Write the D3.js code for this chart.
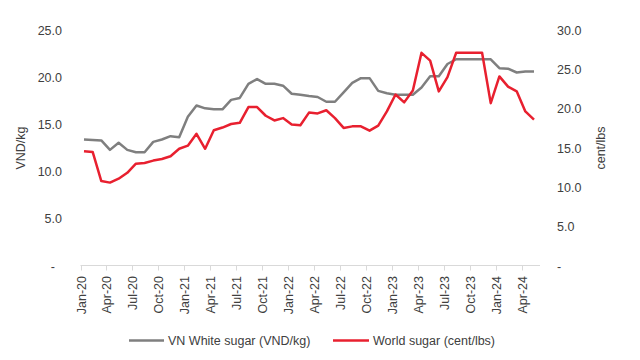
<!DOCTYPE html>
<html><head><meta charset="utf-8">
<script src="https://cdn.jsdelivr.net/npm/d3@7/dist/d3.min.js"></script>
<style>body{margin:0;background:#fff}svg{display:block}text{font-family:"Liberation Sans Narrow","Arial Narrow","Liberation Sans",Arial,sans-serif;fill:#404040}</style>
</head><body><svg id="c" width="640" height="360"></svg>
<script>
const months = ["Jan-20","Feb-20","Mar-20","Apr-20","May-20","Jun-20","Jul-20","Aug-20","Sep-20","Oct-20","Nov-20","Dec-20",
"Jan-21","Feb-21","Mar-21","Apr-21","May-21","Jun-21","Jul-21","Aug-21","Sep-21","Oct-21","Nov-21","Dec-21",
"Jan-22","Feb-22","Mar-22","Apr-22","May-22","Jun-22","Jul-22","Aug-22","Sep-22","Oct-22","Nov-22","Dec-22",
"Jan-23","Feb-23","Mar-23","Apr-23","May-23","Jun-23","Jul-23","Aug-23","Sep-23","Oct-23","Nov-23","Dec-23",
"Jan-24","Feb-24","Mar-24","Apr-24","May-24"];
const vnWhite = [13.4,13.35,13.3,12.3,13.05,12.3,12.05,12.05,13.15,13.4,13.75,13.65,
15.8,17.0,16.7,16.6,16.6,17.6,17.8,19.3,19.8,19.3,19.3,19.1,
18.25,18.15,18.0,17.9,17.4,17.4,18.4,19.4,19.9,19.9,18.55,18.3,
18.15,18.15,18.15,18.9,20.1,20.1,21.4,21.9,21.9,21.9,21.9,21.9,
20.95,20.9,20.5,20.6,20.6];
const worldSugar = [14.6,14.5,10.8,10.6,11.1,11.85,13.0,13.1,13.4,13.6,13.95,14.9,
15.3,16.8,14.9,17.25,17.6,18.05,18.2,20.2,20.2,19.1,18.5,18.8,
18.0,17.9,19.5,19.4,19.8,18.8,17.55,17.75,17.75,17.2,17.85,19.65,
21.8,20.8,22.3,27.1,26.1,22.2,24.0,27.1,27.1,27.1,27.1,20.7,
24.1,22.8,22.2,19.65,18.6];
const tickLabels = ["Jan-20","Apr-20","Jul-20","Oct-20","Jan-21","Apr-21","Jul-21","Oct-21","Jan-22","Apr-22","Jul-22","Oct-22","Jan-23","Apr-23","Jul-23","Oct-23","Jan-24","Apr-24"];
const leftTicks = [0,5,10,15,20,25];
const rightTicks = [0,5,10,15,20,25,30];

const svg = d3.select("#c");
const x = d3.scaleLinear().domain([0, months.length-1]).range([84, 534]);
const yL = d3.scaleLinear().domain([0,25]).range([266,30]);
const yR = d3.scaleLinear().domain([0,30]).range([266,30]);
const fmt = v => v === 0 ? "-" : d3.format(".1f")(v);

// x axis
const axisY = 265.5;
svg.append("line").attr("x1",80.5).attr("x2",540).attr("y1",axisY).attr("y2",axisY).attr("stroke","#d9d9d9").attr("stroke-width",1);
tickLabels.forEach(l => {
  const i = months.indexOf(l);
  const tx = Math.round(x(i) - 3.5) + 0.5;
  svg.append("line").attr("x1",tx).attr("x2",tx).attr("y1",axisY).attr("y2",axisY+5).attr("stroke","#d9d9d9");
  svg.append("text").attr("transform",`translate(${tx+4},${276}) rotate(-90)`).attr("text-anchor","end").attr("font-size",12.5).text(l);
});

// left axis
leftTicks.forEach(v => {
  svg.append("text").attr("x", v===0?55:62).attr("y", yL(v)+4.5).attr("text-anchor","end").attr("font-size",12.5).text(fmt(v));
});
svg.append("text").attr("transform","translate(25,148) rotate(-90)").attr("text-anchor","middle").attr("font-size",12.5).text("VND/kg");

// right axis
rightTicks.forEach(v => {
  svg.append("text").attr("x", v===0?557:557).attr("y", yR(v)+4.5).attr("text-anchor","start").attr("font-size",12.5).text(fmt(v));
});
svg.append("text").attr("transform","translate(605,148) rotate(-90)").attr("text-anchor","middle").attr("font-size",12.5).text("cent/lbs");

// lines
const lineL = d3.line().x((d,i)=>x(i)).y(d=>yL(d));
const lineR = d3.line().x((d,i)=>x(i)).y(d=>yR(d));
svg.append("path").attr("d",lineL(vnWhite)).attr("fill","none").attr("stroke","#7f7f7f").attr("stroke-width",2.5).attr("stroke-linejoin","round");
svg.append("path").attr("d",lineR(worldSugar)).attr("fill","none").attr("stroke","#e8202f").attr("stroke-width",2.5).attr("stroke-linejoin","round");

// legend
const ly = 340.5;
svg.append("line").attr("x1",129).attr("x2",164).attr("y1",ly).attr("y2",ly).attr("stroke","#7f7f7f").attr("stroke-width",2.5);
svg.append("text").attr("x",168).attr("y",ly+4.5).attr("font-size",12.5).text("VN White sugar (VND/kg)");
svg.append("line").attr("x1",333).attr("x2",369).attr("y1",ly).attr("y2",ly).attr("stroke","#e8202f").attr("stroke-width",2.5);
svg.append("text").attr("x",373).attr("y",ly+4.5).attr("font-size",12.5).text("World sugar (cent/lbs)");
</script></body></html>
